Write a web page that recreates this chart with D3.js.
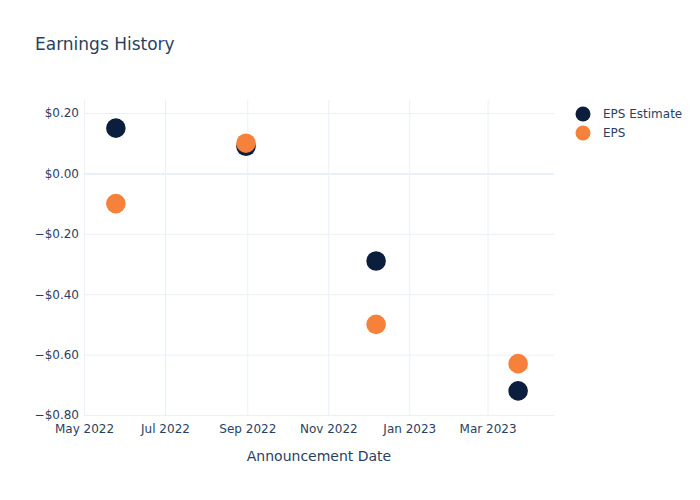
<!DOCTYPE html>
<html><head><meta charset="utf-8">
<script src="https://cdn.jsdelivr.net/npm/d3@7"></script>
<style>body{margin:0;background:#fff}svg{display:block}text{font-family:"DejaVu Sans",sans-serif}</style>
</head><body>
<script>
const dates = ["2022-05-25","2022-08-31","2022-12-07","2023-03-24"];
const epsEstimate = [0.15, 0.09, -0.29, -0.72];
const eps = [-0.10, 0.10, -0.50, -0.63];
const seriesNames = ["EPS Estimate","EPS"];
const xTickLabels = ["May 2022","Jul 2022","Sep 2022","Nov 2022","Jan 2023","Mar 2023"];
const yTickValues = [0.2, 0, -0.2, -0.4, -0.6, -0.8];

const W=700,H=500, L=84, R=554, T=100, B=416.5;
const colors=["#0c1e3e","#f5813a"];
const textColor="#2a3f5f", grid="#ebf0f8";
const parse=d3.timeParse("%Y-%m-%d");
const svg=d3.select("body").append("svg").attr("width",W).attr("height",H);

const x=d3.scaleTime().domain([parse("2022-05-01"),parse("2023-04-20")]).range([L,R]);
const y=d3.scaleLinear().domain([-0.805,0.243]).range([B,T]);

const xTicks=[parse("2022-05-01"),parse("2022-07-01"),parse("2022-09-01"),parse("2022-11-01"),parse("2023-01-01"),parse("2023-03-01")];

// grid
const gx=svg.append("g").attr("transform",`translate(0,${B})`)
  .call(d3.axisBottom(x).tickValues(xTicks).tickSize(-(B-T)).tickFormat((d,i)=>xTickLabels[i]));
gx.select(".domain").remove();
gx.selectAll("line").attr("stroke",grid);
gx.selectAll("text").attr("fill",textColor).attr("font-size",12).attr("dy",0).attr("y",433-B);

const fmt=v=>(v<0?"\u2212":"")+"$"+Math.abs(v).toFixed(2);
const gy=svg.append("g").attr("transform",`translate(${L},0)`)
  .call(d3.axisLeft(y).tickValues(yTickValues).tickSize(-(R-L)).tickFormat(fmt));
gy.select(".domain").remove();
gy.selectAll("line").attr("stroke",grid).attr("stroke-width",d=>d===0?2:1);
gy.selectAll("text").attr("fill",textColor).attr("font-size",12).attr("x",-5);

// points
const series=[epsEstimate,eps];
series.forEach((vals,si)=>{
  svg.append("g").selectAll("circle").data(vals).join("circle")
    .attr("cx",(d,i)=>x(parse(dates[i]))).attr("cy",d=>y(d)).attr("r",9.8)
    .attr("fill",colors[si]);
});

// title
svg.append("text").attr("x",35).attr("y",50).attr("font-size",17).attr("fill",textColor).text("Earnings History");
svg.append("text").attr("x",(L+R)/2).attr("y",461).attr("text-anchor","middle").attr("font-size",14).attr("fill",textColor).text("Announcement Date");

// legend
const lg=svg.append("g");
seriesNames.forEach((n,i)=>{
  lg.append("circle").attr("cx",583).attr("cy",114+i*19).attr("r",7.5).attr("fill",colors[i]);
  lg.append("text").attr("x",603).attr("y",114+i*19).attr("dy","0.35em").attr("font-size",12).attr("fill",textColor).text(n);
});
</script>
</body></html>
